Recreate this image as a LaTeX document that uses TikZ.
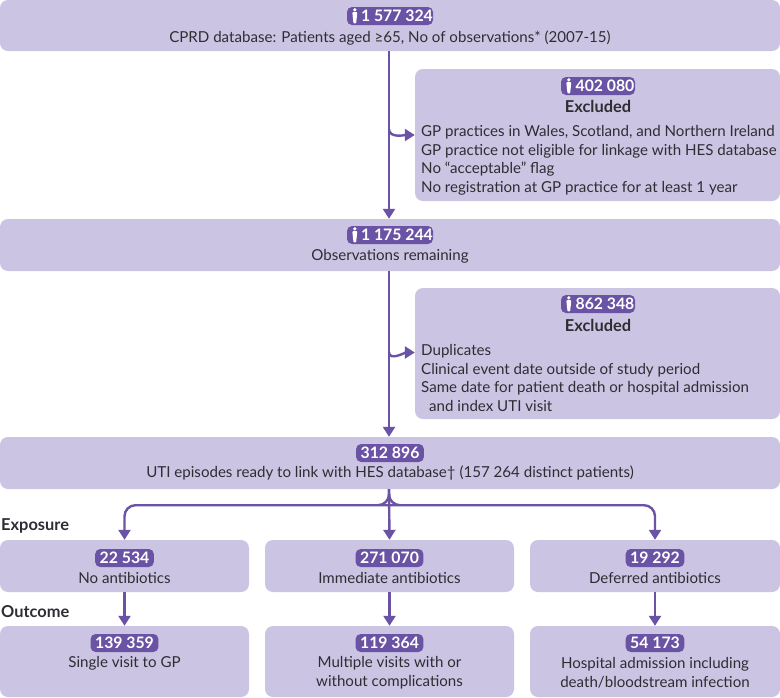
\documentclass[tikz,border=0pt]{standalone}
\usepackage{fontspec}
\setmainfont{Lato}
\usetikzlibrary{arrows.meta,calc}
\definecolor{boxfill}{HTML}{CBC5E3}
\definecolor{ink}{HTML}{6A53A4}
\definecolor{txt}{HTML}{2E2D33}
\tikzset{
  x=1pt,y=-1pt,
  panel/.style={fill=boxfill,rounded corners=8pt,draw=none,inner sep=0pt,minimum width=#1},
  lbl/.style={text=txt,font=\fontsize{15.1}{18.7}\selectfont,inner sep=0pt,anchor=center,align=center},
  lefttxt/.style={text=txt,font=\fontsize{15.1}{18.7}\selectfont,inner sep=0pt,anchor=north west,align=left},
  head/.style={text=txt,font=\fontsize{16.4}{18}\selectfont\bfseries,inner sep=0pt},
  pill/.style={fill=ink,text=white,rounded corners=5pt,font=\fontsize{15.8}{18}\selectfont\bfseries,inner xsep=4.5pt,inner ysep=0pt,minimum height=18pt},
  pillp/.style={pill,inner xsep=0pt,minimum height=18pt},
  conn/.style={draw=ink,line width=2.4pt,-{Triangle[length=10pt,width=12pt]}},
}
\newcommand{\mybox}[5]{\path[panel=1pt] (#2,#3) rectangle (#4,#5) coordinate[midway] (#1);
  \node[inner sep=0pt,minimum width=#4pt-#2pt,minimum height=#5pt-#3pt] (#1) at ({(#2+#4)/2},{(#3+#5)/2}) {};}
\newcommand{\person}[1]{\fill[white] ($(#1.west)+(8,-6.2)$) circle (1.8pt);
  \fill[white,rounded corners=0.8pt] ($(#1.west)+(5.5,-3.8)$) -- ($(#1.west)+(10.5,-3.8)$) -- ($(#1.west)+(9.9,2)$) -- ($(#1.west)+(9.3,7.4)$) -- ($(#1.west)+(6.7,7.4)$) -- ($(#1.west)+(6.1,2)$) -- cycle;}
\begin{document}
\begin{tikzpicture}
\useasboundingbox (0,0) rectangle (780,697);
\mybox{top}{0}{0}{780}{51}
\mybox{exa}{415}{69}{780}{201}
\mybox{obs}{0}{219}{780}{271}
\mybox{exb}{415}{288}{780}{419}
\mybox{uti}{0}{437}{780}{489}
\mybox{ea}{0}{540}{249}{592}
\mybox{eb}{265}{540}{514}{592}
\mybox{ec}{530}{540}{780}{592}
\mybox{oa}{0}{626}{249}{697}
\mybox{ob}{265}{626}{514}{697}
\mybox{oc}{530}{626}{780}{697}

\node[pillp,minimum width=86pt] (ptop) at (390,16) {\hspace{14pt}1 577 324};
\person{ptop}
\node[lbl] (ttop) at (390,38) {CPRD database: Patients aged ≥65, No of observations* (2007-15)};

\node[pillp,minimum width=74pt] (pexa) at (598,86) {\hspace{14pt}402 080};
\person{pexa}
\node[head] (hexa) at (598,106) {Excluded};
\node[lefttxt] (texa) at (421,125) {GP practices in Wales, Scotland, and Northern Ireland\\GP practice not eligible for linkage with HES database\\No “acceptable” flag\\No registration at GP practice for at least 1 year};

\node[pillp,minimum width=86pt] (pobs) at (390,235) {\hspace{14pt}1 175 244};
\person{pobs}
\node[lbl] (tobs) at (390,256) {Observations remaining};

\node[pillp,minimum width=74pt] (pexb) at (598,304) {\hspace{14pt}862 348};
\person{pexb}
\node[head] (hexb) at (598,325) {Excluded};
\node[lefttxt] (texb) at (421,344) {Duplicates\\Clinical event date outside of study period\\Same date for patient death or hospital admission\\\hspace{8pt}and index UTI visit};

\node[pill] (puti) at (390,453) {312 896};
\node[lbl] (tuti) at (390,473) {UTI episodes ready to link with HES database† (157 264 distinct patients)};

\node[head,anchor=west] (hexp) at (1,526) {Exposure};
\node[head,anchor=west] (hout) at (1,612) {Outcome};

\node[pill] (pea) at (ea.center |- 0,558) {22 534};
\node[lbl] (tea) at (ea.center |- 0,578) {No antibiotics};
\node[pill] (peb) at (eb.center |- 0,558) {271 070};
\node[lbl] (teb) at (eb.center |- 0,578) {Immediate antibiotics};
\node[pill] (pec) at (ec.center |- 0,558) {19 292};
\node[lbl] (tec) at (ec.center |- 0,578) {Deferred antibiotics};

\node[pill] (poa) at (oa.center |- 0,643) {139 359};
\node[lbl] (toa) at (oa.center |- 0,663) {Single visit to GP};
\node[pill] (pob) at (ob.center |- 0,643) {119 364};
\node[lbl] (tob) at (ob.center |- 0,673) {Multiple visits with or\\without complications};
\node[pill] (poc) at (oc.center |- 0,643) {54 173};
\node[lbl] (toc) at (oc.center |- 0,673) {Hospital admission including\\death/bloodstream infection};

% connectors
\coordinate (ja) at ($(top.south)+(-1,78)$);
\coordinate (jb) at ($(obs.south)+(-1,81)$);
\coordinate (hub) at ($(uti.south)+(-1,0)$);
\draw[conn] ($(top.south)+(-1,0)$) -- (obs.north -| hub);
\draw[conn] (obs.south -| hub) -- (uti.north -| hub);
\draw[conn] (ja) to[out=-90,in=180,looseness=0.9] ($(exa.west)$);
\draw[conn] (jb) to[out=-90,in=180,looseness=0.9] ($(exb.west)+(0,-1)$);
\draw[conn] (hub) -- (eb.north);
\draw[conn,rounded corners=11pt] (hub) |- ($(hub)+(-10,16)$) -| (ea.north);
\draw[conn,rounded corners=11pt] (hub) |- ($(hub)+(10,16)$) -| (ec.north);
\draw[conn] (ea.south) -- (oa.north);
\draw[conn] (eb.south) -- (ob.north);
\draw[conn] (ec.south) -- (oc.north);
\end{tikzpicture}
\end{document}
